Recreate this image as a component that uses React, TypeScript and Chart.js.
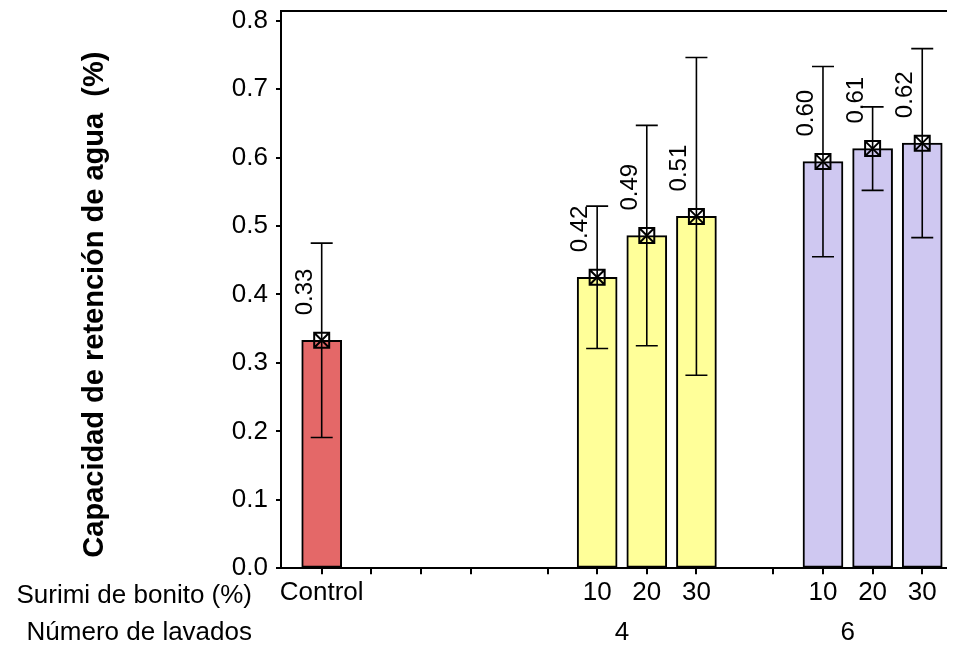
import { useEffect, useRef } from "react";
import { Chart, registerables } from "chart.js";

Chart.register(...registerables);

// ---- data ----
const tickPositions = [0, 1, 2, 3, 4.55, 5.55, 6.55, 7.55, 9.1, 10.1, 11.1, 12.1];
const tickLabels = ["Control", "", "", "", "", "10", "20", "30", "", "10", "20", "30"];
const barPositions = [0, 5.55, 6.55, 7.55, 10.1, 11.1, 12.1];
const barValues = [0.333, 0.425, 0.486, 0.514, 0.594, 0.613, 0.621];
const errorValues = [0.142, 0.104, 0.161, 0.232, 0.139, 0.061, 0.138];
const valueLabels = ["0.33", "0.42", "0.49", "0.51", "0.60", "0.61", "0.62"];
const barGroup = [0, 1, 1, 1, 2, 2, 2];
const groupLabels = ["4", "6"];
const groupCenters = [6.05, 10.6];
const rowTitles = ["Surimi de bonito (%)", "Número de lavados"];
const yTicks = [0, 0.1, 0.2, 0.3, 0.4, 0.5, 0.6, 0.7, 0.8];
const yTitle = "Capacidad de retención de agua  (%)";

// ---- styles ----
const FONT = "'Liberation Sans', Arial, Helvetica, sans-serif";
const groupColors = ["#E46868", "#FFFF99", "#CFC8F1"];
const X_MIN = -0.82;
const X_MAX = 12.76;
const Y_MAX = 0.814;

const overlayPlugin = {
  id: "overlay",
  afterDatasetsDraw(chart: any) {
    const { ctx, chartArea } = chart;
    const xs = chart.scales.x;
    const ys = chart.scales.y;
    ctx.save();
    // top border
    ctx.strokeStyle = "#000";
    ctx.lineWidth = 2;
    ctx.beginPath();
    ctx.moveTo(chartArea.left, chartArea.top);
    ctx.lineTo(chartArea.right + 2, chartArea.top);
    ctx.stroke();

    // error bars, markers, value labels
    barPositions.forEach((pos, i) => {
      const x = xs.getPixelForValue(pos);
      const yv = ys.getPixelForValue(barValues[i]);
      const yHi = ys.getPixelForValue(barValues[i] + errorValues[i]);
      const yLo = ys.getPixelForValue(barValues[i] - errorValues[i]);
      ctx.strokeStyle = "#000";
      ctx.lineWidth = 1.6;
      ctx.beginPath();
      ctx.moveTo(x, yHi);
      ctx.lineTo(x, yLo);
      ctx.moveTo(x - 11, yHi);
      ctx.lineTo(x + 11, yHi);
      ctx.moveTo(x - 11, yLo);
      ctx.lineTo(x + 11, yLo);
      ctx.stroke();
      // marker: square with X
      const h = 7.5;
      ctx.lineWidth = 2;
      ctx.beginPath();
      ctx.rect(x - h, yv - h, 2 * h, 2 * h);
      ctx.moveTo(x - h, yv - h);
      ctx.lineTo(x + h, yv + h);
      ctx.moveTo(x + h, yv - h);
      ctx.lineTo(x - h, yv + h);
      ctx.stroke();
      // value label rotated
      ctx.save();
      ctx.translate(x - 10, yv - 25);
      ctx.rotate(-Math.PI / 2);
      ctx.fillStyle = "#000";
      ctx.font = `24px ${FONT}`;
      ctx.textAlign = "left";
      ctx.textBaseline = "alphabetic";
      ctx.fillText(valueLabels[i], 0, 0);
      ctx.restore();
    });

    // y title
    ctx.save();
    ctx.translate(95, (chartArea.top + chartArea.bottom) / 2 + 15);
    ctx.rotate(-Math.PI / 2);
    ctx.fillStyle = "#000";
    ctx.font = `bold 29px ${FONT}`;
    ctx.textAlign = "center";
    ctx.textBaseline = "alphabetic";
    ctx.fillText(yTitle, 0, 0);
    ctx.restore();

    // row titles and group labels
    ctx.fillStyle = "#000";
    ctx.font = `26px ${FONT}`;
    ctx.textBaseline = "alphabetic";
    ctx.textAlign = "right";
    ctx.fillText(rowTitles[0], 244, chartArea.bottom + 34.5);
    ctx.fillText(rowTitles[1], 244, chartArea.bottom + 71.5);
    ctx.textAlign = "center";
    groupLabels.forEach((lab, i) => {
      ctx.fillText(lab, xs.getPixelForValue(groupCenters[i]), chartArea.bottom + 71.5);
    });
    ctx.restore();
  },
};

export default function App() {
  const ref = useRef<HTMLCanvasElement | null>(null);
  useEffect(() => {
    if (!ref.current) return;
    const chart = new Chart(ref.current, {
      type: "bar",
      data: {
        datasets: [
          {
            data: barPositions.map((p, i) => ({ x: p, y: barValues[i] })),
            backgroundColor: barGroup.map((g) => groupColors[g]),
            borderColor: "#000",
            borderWidth: 2,
            borderSkipped: false,
            barThickness: 40,
          },
        ],
      },
      options: {
        animation: false,
        responsive: true,
        maintainAspectRatio: false,
        layout: { padding: { left: 0, right: 0, top: 3, bottom: 0 } },
        plugins: {
          legend: { display: false },
          tooltip: { enabled: false },
        },
        scales: {
          x: {
            type: "linear",
            min: X_MIN,
            max: X_MAX,
            offset: false,
            afterBuildTicks: (scale: any) => {
              scale.ticks = tickPositions.map((v) => ({ value: v }));
            },
            afterFit: (scale: any) => {
              scale.height = 79.7;
              scale.paddingLeft = 0;
              scale.paddingRight = 0;
            },
            ticks: {
              autoSkip: false,
              maxRotation: 0,
              minRotation: 0,
              padding: 3,
              color: "#000",
              font: { family: FONT, size: 26 },
              callback: (_v: any, i: number) => tickLabels[i],
            },
            grid: {
              offset: false,
              drawOnChartArea: false,
              drawTicks: true,
              tickLength: 6,
              color: "#000",
              lineWidth: 2,
            },
            border: { display: true, color: "#000", width: 2 },
          },
          y: {
            type: "linear",
            min: 0,
            max: Y_MAX,
            afterBuildTicks: (scale: any) => {
              scale.ticks = yTicks.map((v) => ({ value: v }));
            },
            afterFit: (scale: any) => {
              scale.width = 273;
              scale.paddingTop = 0;
              scale.paddingBottom = 0;
            },
            ticks: {
              padding: 8,
              color: "#000",
              font: { family: FONT, size: 26 },
              callback: (v: any) => Number(v).toFixed(1),
            },
            grid: {
              drawOnChartArea: false,
              drawTicks: true,
              tickLength: 5,
              color: "#000",
              lineWidth: 2,
            },
            border: { display: true, color: "#000", width: 2 },
          },
        },
      },
      plugins: [overlayPlugin],
    });
    return () => chart.destroy();
  }, []);
  return (
    <div style={{ width: 947, height: 640, position: "relative" }}>
      <canvas ref={ref} />
    </div>
  );
}
